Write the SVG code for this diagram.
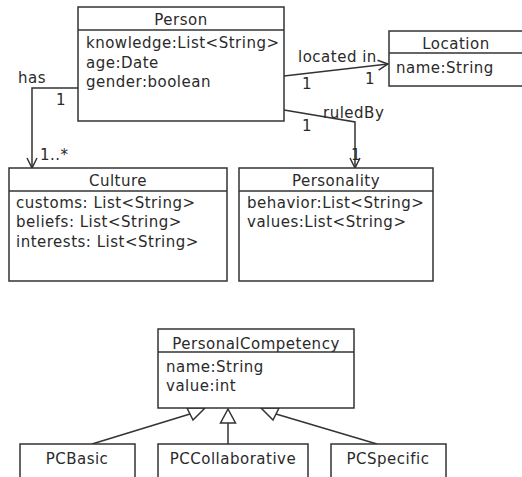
<svg xmlns="http://www.w3.org/2000/svg" width="522" height="477" viewBox="0 0 522 477">
<style>
.box{fill:#fff;stroke:#333;stroke-width:1.5}
.sep{stroke:#333;stroke-width:1.5}
.ln{fill:none;stroke:#333;stroke-width:1.5}
text{font-family:"DejaVu Sans",sans-serif;font-size:15px;letter-spacing:0.5px;fill:#2a2a2a}
.c{text-anchor:middle}
.tri{fill:#fff;stroke:#333;stroke-width:1.5}
</style>
<defs>
<marker id="open" viewBox="0 0 12 12" refX="11" refY="6" markerWidth="12" markerHeight="12" markerUnits="userSpaceOnUse" orient="auto">
<path d="M1,1 L11,6 L1,11" fill="none" stroke="#333" stroke-width="1.5"/>
</marker>
</defs>
<rect width="522" height="477" fill="#fff"/>
<g id="connectors">
<polyline class="ln" points="284,76 388,64" marker-end="url(#open)"/>
<polyline class="ln" points="284,110 355,122 355,168" marker-end="url(#open)"/>
<polyline class="ln" points="78,88 32,88 32,168" marker-end="url(#open)"/>
<line class="ln" x1="92" y1="444" x2="190" y2="414"/>
<polygon class="tri" points="187,408 205,408 193,420"/>
<line class="ln" x1="228" y1="444" x2="228" y2="423"/>
<polygon class="tri" points="228,409 220.5,423 235.5,423"/>
<line class="ln" x1="377" y1="444" x2="276" y2="414"/>
<polygon class="tri" points="261,408 279,408 273,420"/>
<text x="298" y="62">located in</text>
<text x="302" y="89">1</text>
<text x="365" y="84">1</text>
<text x="323" y="118">ruledBy</text>
<text x="302" y="131">1</text>
<text x="351" y="160">1</text>
<text x="18" y="83">has</text>
<text x="56" y="105">1</text>
<text x="40" y="160">1..*</text>
</g>
<g id="Person">
<rect class="box" x="78" y="7" width="206" height="114"/>
<line class="sep" x1="78" y1="30" x2="284" y2="30"/>
<text class="c" x="181" y="25">Person</text>
<text x="86" y="48">knowledge:List&lt;String&gt;</text>
<text x="86" y="68">age:Date</text>
<text x="86" y="87">gender:boolean</text>
</g>
<g id="Location">
<rect class="box" x="389" y="31" width="140" height="55"/>
<line class="sep" x1="389" y1="53" x2="529" y2="53"/>
<text class="c" x="456" y="49">Location</text>
<text x="396" y="73">name:String</text>
</g>
<g id="Culture">
<rect class="box" x="9" y="168" width="218" height="113"/>
<line class="sep" x1="9" y1="191" x2="227" y2="191"/>
<text class="c" x="118" y="186">Culture</text>
<text x="16" y="208">customs: List&lt;String&gt;</text>
<text x="16" y="227">beliefs: List&lt;String&gt;</text>
<text x="16" y="247">interests: List&lt;String&gt;</text>
</g>
<g id="Personality">
<rect class="box" x="239" y="168" width="194" height="113"/>
<line class="sep" x1="239" y1="191" x2="433" y2="191"/>
<text class="c" x="336" y="186">Personality</text>
<text x="247" y="208">behavior:List&lt;String&gt;</text>
<text x="247" y="227">values:List&lt;String&gt;</text>
</g>
<g id="PersonalCompetency">
<rect class="box" x="158" y="329" width="196" height="79"/>
<line class="sep" x1="158" y1="352" x2="354" y2="352"/>
<text class="c" x="256" y="349">PersonalCompetency</text>
<text x="166" y="372">name:String</text>
<text x="166" y="391">value:int</text>
</g>
<g id="PCBasic">
<rect class="box" x="20" y="444" width="115" height="40"/>
<text class="c" x="77" y="464">PCBasic</text>
</g>
<g id="PCCollaborative">
<rect class="box" x="158" y="444" width="150" height="40"/>
<text class="c" x="233" y="464">PCCollaborative</text>
</g>
<g id="PCSpecific">
<rect class="box" x="331" y="444" width="115" height="40"/>
<text class="c" x="388" y="464">PCSpecific</text>
</g>
</svg>
